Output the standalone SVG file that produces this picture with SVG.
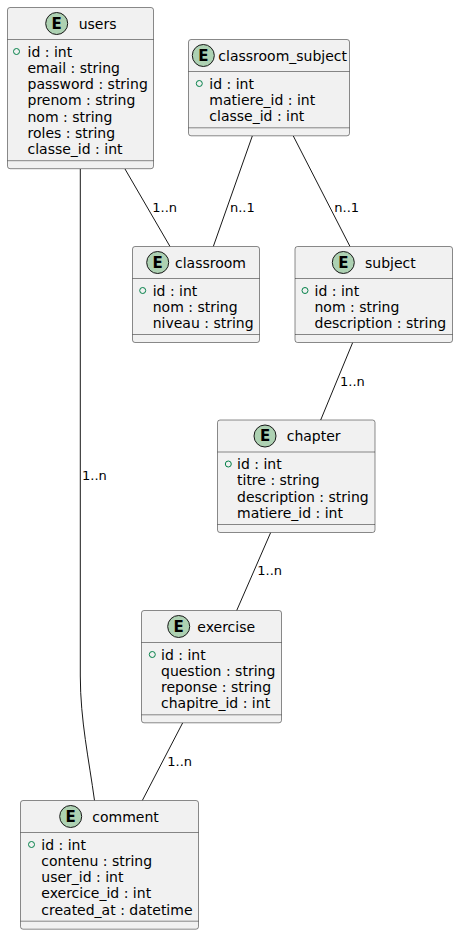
<svg xmlns="http://www.w3.org/2000/svg" width="458" height="935" viewBox="0 0 458 935">
<style>
.box{fill:#F1F1F1;stroke:#181818;stroke-width:0.5}
.sep{stroke:#181818;stroke-width:0.5}
.spot{fill:#ADD1B2;stroke:#181818;stroke-width:1}
.E{font-family:"DejaVu Sans",sans-serif;font-size:15px;font-weight:bold;fill:#000;text-anchor:middle}
.name{font-family:"DejaVu Sans",sans-serif;font-size:14px;fill:#000}
.attr{font-family:"DejaVu Sans",sans-serif;font-size:14px;fill:#000}
.pk{fill:none;stroke:#038048;stroke-width:1}
.edge{fill:none;stroke:#181818;stroke-width:1}
.lbl{font-family:"DejaVu Sans",sans-serif;font-size:13px;fill:#000}
</style>
<rect width="458" height="935" fill="#FFFFFF"/>
<g id="connectors">
<path class="edge" d="M125,169 L170,246.5"/>
<text class="lbl" x="152.3" y="211.5">1..n</text>
<path class="edge" d="M80.3,169 L80.3,676 C80.3,720 89,760 94.5,800.5"/>
<text class="lbl" x="82" y="480">1..n</text>
<path class="edge" d="M252.3,136 L213.3,246.5"/>
<text class="lbl" x="230" y="211.5">n..1</text>
<path class="edge" d="M293.3,136 L350,246.5"/>
<text class="lbl" x="334.3" y="211.5">n..1</text>
<path class="edge" d="M352.7,342.5 L320.7,420"/>
<text class="lbl" x="340" y="385.7">1..n</text>
<path class="edge" d="M270.7,532.5 L236.7,610.5"/>
<text class="lbl" x="257.3" y="575">1..n</text>
<path class="edge" d="M182.7,722.8 L142.3,800.5"/>
<text class="lbl" x="167.3" y="765.7">1..n</text>
</g>
<g id="users">
<rect class="box" x="7.5" y="7.5" width="146" height="161.2" rx="2.5"/>
<circle class="spot" cx="56.7" cy="23.5" r="11"/>
<text class="E" x="56.7" y="28.8">E</text>
<text class="name" x="78.7" y="28.5">users</text>
<line class="sep" x1="7.5" y1="39.5" x2="153.5" y2="39.5"/>
<circle class="pk" cx="16.5" cy="51.5" r="3"/>
<text class="attr" x="27.5" y="56.5">id : int</text>
<text class="attr" x="27.5" y="72.8">email : string</text>
<text class="attr" x="27.5" y="89.1">password : string</text>
<text class="attr" x="27.5" y="105.4">prenom : string</text>
<text class="attr" x="27.5" y="121.7">nom : string</text>
<text class="attr" x="27.5" y="138">roles : string</text>
<text class="attr" x="27.5" y="154.3">classe_id : int</text>
<line class="sep" x1="7.5" y1="160.7" x2="153.5" y2="160.7"/>
</g>
<g id="classroom_subject">
<rect class="box" x="188.5" y="39.5" width="161" height="96.3" rx="2.5"/>
<circle class="spot" cx="203.3" cy="55.5" r="11"/>
<text class="E" x="203.3" y="60.8">E</text>
<text class="name" x="218.3" y="60.5">classroom_subject</text>
<line class="sep" x1="188.5" y1="71.5" x2="349.5" y2="71.5"/>
<circle class="pk" cx="199.3" cy="83.5" r="3"/>
<text class="attr" x="209.3" y="88.5">id : int</text>
<text class="attr" x="209.3" y="104.8">matiere_id : int</text>
<text class="attr" x="209.3" y="121.1">classe_id : int</text>
<line class="sep" x1="188.5" y1="127.8" x2="349.5" y2="127.8"/>
</g>
<g id="classroom">
<rect class="box" x="132.5" y="246.5" width="127" height="96" rx="2.5"/>
<circle class="spot" cx="157.7" cy="262.5" r="11"/>
<text class="E" x="157.7" y="267.8">E</text>
<text class="name" x="175" y="267.5">classroom</text>
<line class="sep" x1="132.5" y1="278.5" x2="259.5" y2="278.5"/>
<circle class="pk" cx="142.7" cy="290.5" r="3"/>
<text class="attr" x="152.7" y="295.5">id : int</text>
<text class="attr" x="152.7" y="311.8">nom : string</text>
<text class="attr" x="152.7" y="328.1">niveau : string</text>
<line class="sep" x1="132.5" y1="334.5" x2="259.5" y2="334.5"/>
</g>
<g id="subject">
<rect class="box" x="295" y="246.5" width="157.5" height="96" rx="2.5"/>
<circle class="spot" cx="343.3" cy="262.5" r="11"/>
<text class="E" x="343.3" y="267.8">E</text>
<text class="name" x="365" y="267.5">subject</text>
<line class="sep" x1="295" y1="278.5" x2="452.5" y2="278.5"/>
<circle class="pk" cx="305" cy="290.5" r="3"/>
<text class="attr" x="314.5" y="295.5">id : int</text>
<text class="attr" x="314.5" y="311.8">nom : string</text>
<text class="attr" x="314.5" y="328.1">description : string</text>
<line class="sep" x1="295" y1="334.5" x2="452.5" y2="334.5"/>
</g>
<g id="chapter">
<rect class="box" x="217.5" y="420" width="157.5" height="112.5" rx="2.5"/>
<circle class="spot" cx="265" cy="436" r="11"/>
<text class="E" x="265" y="441.3">E</text>
<text class="name" x="286.7" y="441">chapter</text>
<line class="sep" x1="217.5" y1="452" x2="375" y2="452"/>
<circle class="pk" cx="228.3" cy="464" r="3"/>
<text class="attr" x="237" y="469">id : int</text>
<text class="attr" x="237" y="485.3">titre : string</text>
<text class="attr" x="237" y="501.6">description : string</text>
<text class="attr" x="237" y="517.9">matiere_id : int</text>
<line class="sep" x1="217.5" y1="524.5" x2="375" y2="524.5"/>
</g>
<g id="exercise">
<rect class="box" x="141.5" y="610.5" width="140" height="112.3" rx="2.5"/>
<circle class="spot" cx="178.7" cy="626.5" r="11"/>
<text class="E" x="178.7" y="631.8">E</text>
<text class="name" x="197.3" y="631.5">exercise</text>
<line class="sep" x1="141.5" y1="642.5" x2="281.5" y2="642.5"/>
<circle class="pk" cx="152.3" cy="654.5" r="3"/>
<text class="attr" x="161" y="659.5">id : int</text>
<text class="attr" x="161" y="675.8">question : string</text>
<text class="attr" x="161" y="692.1">reponse : string</text>
<text class="attr" x="161" y="708.4">chapitre_id : int</text>
<line class="sep" x1="141.5" y1="714.8" x2="281.5" y2="714.8"/>
</g>
<g id="comment">
<rect class="box" x="20.5" y="800.5" width="178" height="128.7" rx="2.5"/>
<circle class="spot" cx="70.7" cy="816.5" r="11"/>
<text class="E" x="70.7" y="821.8">E</text>
<text class="name" x="92.3" y="821.5">comment</text>
<line class="sep" x1="20.5" y1="832.5" x2="198.5" y2="832.5"/>
<circle class="pk" cx="31.5" cy="844.5" r="3"/>
<text class="attr" x="41.3" y="849.5">id : int</text>
<text class="attr" x="41.3" y="865.8">contenu : string</text>
<text class="attr" x="41.3" y="882.1">user_id : int</text>
<text class="attr" x="41.3" y="898.4">exercice_id : int</text>
<text class="attr" x="41.3" y="914.7">created_at : datetime</text>
<line class="sep" x1="20.5" y1="921.2" x2="198.5" y2="921.2"/>
</g>
</svg>
